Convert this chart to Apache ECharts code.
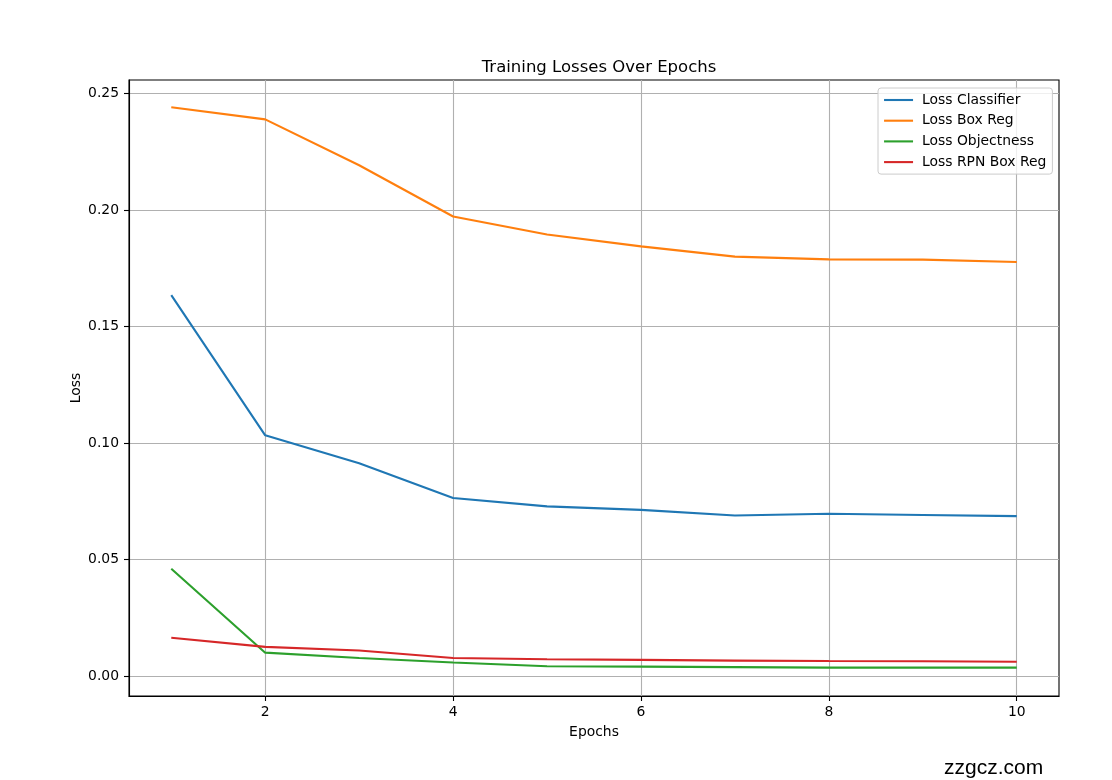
<!DOCTYPE html>
<html>
<head>
<meta charset="utf-8">
<script src="https://cdn.jsdelivr.net/npm/echarts@6/dist/echarts.min.js"></script>
<style>
html,body{margin:0;padding:0;background:#fff;}
#chart{width:1112px;height:780px;}
</style>
</head>
<body>
<div id="chart"></div>
<script>
const epochs = [1, 2, 3, 4, 5, 6, 7, 8, 9, 10];
const lossClassifier = [0.1636, 0.1034, 0.0914, 0.0765, 0.0729, 0.0714, 0.0690, 0.0697, 0.0692, 0.0687];
const lossBoxReg = [0.2442, 0.2390, 0.2193, 0.1973, 0.1896, 0.1845, 0.1801, 0.1789, 0.1788, 0.1778];
const lossObjectness = [0.0461, 0.0101, 0.0078, 0.0059, 0.0043, 0.0041, 0.0039, 0.0037, 0.0037, 0.0037];
const lossRpnBoxReg = [0.0165, 0.0126, 0.0110, 0.0078, 0.0073, 0.0070, 0.0067, 0.0065, 0.0064, 0.0062];
const xTicks = [2, 4, 6, 8, 10];
const yTicks = [0, 0.05, 0.10, 0.15, 0.20, 0.25];
const seriesNames = ['Loss Classifier', 'Loss Box Reg', 'Loss Objectness', 'Loss RPN Box Reg'];
const seriesColors = ['#1f77b4', '#ff7f0e', '#2ca02c', '#d62728'];
const seriesValues = [lossClassifier, lossBoxReg, lossObjectness, lossRpnBoxReg];

const FONT = 'DejaVu Sans';
const chart = echarts.init(document.getElementById('chart'), null, {renderer: 'canvas'});

const series = seriesNames.map((name, i) => ({
  name: name,
  type: 'line',
  symbol: 'none',
  color: seriesColors[i],
  lineStyle: {width: 2.1, color: seriesColors[i]},
  data: epochs.map((e, j) => [e, seriesValues[i][j]]),
  z: 3
}));

chart.setOption({
  animation: false,
  backgroundColor: '#fff',
  title: {
    text: 'Training Losses Over Epochs',
    left: 594, top: 54, textAlign: 'center',
    textStyle: {fontFamily: FONT, fontSize: 16.5, fontWeight: 'normal', color: '#000'}
  },
  grid: {
    left: 129, right: 53, top: 80, bottom: 84,
    show: true, borderColor: '#000', borderWidth: 1.1, backgroundColor: 'transparent'
  },
  legend: {
    orient: 'vertical',
    left: 878, top: 88,
    data: seriesNames,
    itemWidth: 29, itemHeight: 14, itemGap: 6.7,
    padding: [5, 6, 5, 5],
    borderColor: '#cccccc', borderWidth: 1, borderRadius: 3,
    backgroundColor: 'rgba(255,255,255,0.8)',
    itemStyle: {opacity: 0},
    lineStyle: {width: 2.1},
    textStyle: {fontFamily: FONT, fontSize: 13.9, color: '#000', padding: [0, 0, 0, 4]}
  },
  xAxis: {
    type: 'value',
    min: 0.55, max: 10.45,
    name: 'Epochs', nameLocation: 'middle', nameGap: 29,
    nameTextStyle: {fontFamily: FONT, fontSize: 13.9, color: '#000'},
    axisLine: {show: true, onZero: false, lineStyle: {color: '#000', width: 1.1}},
    axisTick: {show: true, inside: false, length: 5, customValues: xTicks, lineStyle: {color: '#000', width: 1.1}},
    axisLabel: {customValues: xTicks, margin: 9, fontFamily: FONT, fontSize: 13.9, color: '#000'},
    splitLine: {show: true, lineStyle: {color: '#b0b0b0', width: 1.1}}
  },
  yAxis: {
    type: 'value',
    min: -0.0085, max: 0.2559,
    name: 'Loss', nameLocation: 'middle', nameGap: 46, nameMoveOverlap: false,
    nameTextStyle: {fontFamily: FONT, fontSize: 13.9, color: '#000'},
    axisLine: {show: true, onZero: false, lineStyle: {color: '#000', width: 1.1}},
    axisTick: {show: true, inside: false, length: 5, customValues: yTicks, lineStyle: {color: '#000', width: 1.1}},
    axisLabel: {customValues: yTicks, margin: 10, fontFamily: FONT, fontSize: 13.9, color: '#000',
      formatter: v => v.toFixed(2)},
    splitLine: {show: true, lineStyle: {color: '#b0b0b0', width: 1.1}}
  },
  graphic: [{
    type: 'text',
    left: 944, top: 758,
    style: {text: 'zzgcz.com', fontFamily: 'Liberation Sans', fontSize: 21, fill: '#000'}
  }],
  series: series
});
</script>
</body>
</html>
